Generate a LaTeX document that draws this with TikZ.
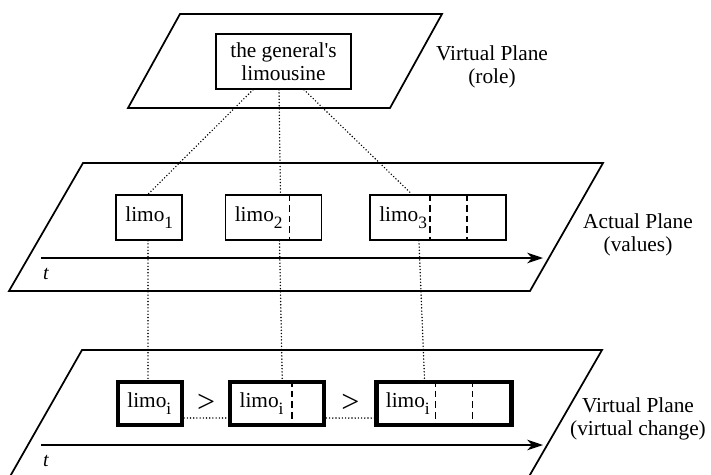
\documentclass[tikz,border=0pt]{standalone}
\usepackage{fontspec}
\setmainfont{Liberation Serif}
\usepackage{tikz}
\usetikzlibrary{positioning}
\usetikzlibrary{calc,arrows.meta}
\tikzstyle{plane edge}=[line width=1.3pt,line join=miter]
\tikzstyle{limo box}=[draw,line width=1.1pt,minimum height=33.75pt,inner sep=0pt,font=\rmfamily\fontsize{16}{17}\selectfont]
\tikzstyle{virtual box}=[limo box,line width=3.2pt,minimum height=32.25pt]
\tikzstyle{role link}=[line width=1.2pt,line cap=round,dash pattern=on 0pt off 2.4pt]
\tikzstyle{cell line}=[line width=1.1pt,dash pattern=on 5pt off 3pt]
\tikzstyle{time axis}=[-{Stealth[length=12pt,width=8pt]},line width=1.3pt]
\tikzstyle{plane label}=[align=center,font=\rmfamily\fontsize{16}{17}\selectfont]
\newcommand{\limo}[1]{limo\raisebox{-5.5pt}{\fontsize{13}{13}\selectfont #1}}
\newcommand{\cellbox}[2]{\makebox[#1][l]{\hspace{7pt}#2}}

\begin{document}
\begin{tikzpicture}[x=0.75pt,y=-0.75pt]
      \path[fill=white,use as bounding box] (0,0) rectangle (711,475);

      \draw[plane edge] (180,14) -- (442,14) -- (390,108) -- (128,108) -- cycle;
      \draw[plane edge] (83,163) -- (603,163) -- (530,291) -- (9,291) -- cycle;
      \draw[plane edge] (8,480) -- (82,350) -- (602,350) -- (527,480);

      \node [draw,line width=1.1pt,align=center,minimum width=101.25pt,minimum height=41.25pt,
             inner sep=0pt,font=\rmfamily\fontsize{16}{17}\selectfont] (gen) at (283.5,61.5) {the general\textquotesingle s\\limousine};
      \node [plane label] (role) at (492,67) {Virtual Plane\\(role)};

        \node [limo box] (a1) at (149,217.5) {\cellbox{49.5pt}{\limo{1}}};
        \node [limo box,right=31.5pt of a1] (a2) {\cellbox{72pt}{\limo{2}}};
        \node [limo box,right=35.25pt of a2] (a3) {\cellbox{102pt}{\limo{3}}};
      \node [plane label] (actual) at (638,235) {Actual Plane\\(values)};

        \node [virtual box] (v1) at (150,403.5) {\cellbox{48pt}{\limo{i}}};
        \node [virtual box,right=33pt of v1] (v2) {\cellbox{70.5pt}{\limo{i}}};
        \node [virtual box,right=36pt of v2] (v3) {\cellbox{101.25pt}{\limo{i}}};
      \node [plane label] (virtual) at (638,419) {Virtual Plane\\(virtual change)};

      \node [font=\rmfamily\fontsize{24}{24}\selectfont,inner sep=0pt] (gt1) at ($(v1.east)!0.5!(v2.west)$) {>};
      \node [font=\rmfamily\fontsize{24}{24}\selectfont,inner sep=0pt] (gt2) at ($(v2.east)!0.5!(v3.west)$) {>};

      \draw[cell line] ($(a2.north west)+(65,0)$) -- ($(a2.south west)+(65,0)$);
      \draw[cell line] ($(a3.north west)+(61,0)$) -- ($(a3.south west)+(61,0)$);
      \draw[cell line] ($(a3.north west)+(98,0)$) -- ($(a3.south west)+(98,0)$);
      \draw[cell line] ($(v2.north west)+(64,0)$) -- ($(v2.south west)+(64,0)$);
      \draw[cell line] ($(v3.north west)+(61,0)$) -- ($(v3.south west)+(61,0)$);
      \draw[cell line] ($(v3.north west)+(98,0)$) -- ($(v3.south west)+(98,0)$);

      \draw[role link] ($(gen.south)+(-30.5,0)$) -- ($(a1.north)+(-1,0)$);
      \draw[role link] ($(gen.south)+(-4.5,0)$) -- ($(a2.north)+(7,0)$);
      \draw[role link] ($(gen.south)+(20.5,0)$) -- ($(a3.north)+(-26,0)$);

      \draw[role link] ($(a1.south)+(-1,0)$) -- ($(v1.north)+(-2,0)$);
      \draw[role link] ($(a2.south)+(6,0)$) -- ($(v2.north)+(5,0)$);
      \draw[role link] ($(a3.south)+(-19,0)$) -- ($(v3.north)+(-19.5,0)$);

      \draw[role link] ($(v1.east)+(0,14.5)$) -- ($(v2.west)+(0,14.5)$);
      \draw[role link] ($(v2.east)+(0,14.5)$) -- ($(v3.west)+(0,14.5)$);

      \coordinate (ta) at (41,258);
      \coordinate (tb) at (543,258);
      \draw[time axis] (ta) -- (tb);
      \node [font=\rmfamily\itshape\fontsize{15}{15}\selectfont,inner sep=0pt] (t1) at (46,274) {t};

      \coordinate (tc) at (41,445);
      \coordinate (td) at (543,445);
      \draw[time axis] (tc) -- (td);
      \node [font=\rmfamily\itshape\fontsize{15}{15}\selectfont,inner sep=0pt] (t2) at (46,461) {t};
\end{tikzpicture}
\end{document}
